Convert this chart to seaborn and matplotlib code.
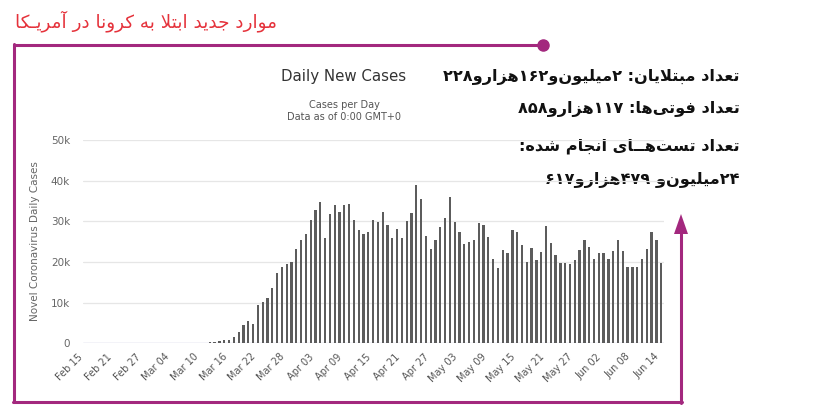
import re
import pandas as pd
import matplotlib.pyplot as plt
import seaborn as sns

# داده‌ها: موارد روزانه از ۱۵ فوریه تا ۱۴ ژوئن
start_date = "2020-02-15"
end_date = "2020-06-14"
feb_cases = [0, 0, 0, 0, 0, 0, 0, 0, 0, 0, 0, 0, 0, 10, 10]
mar_cases = [10, 20, 20, 30, 50, 70, 80, 100, 120, 150, 180, 200,
             300, 500, 700, 700, 1500, 2900, 4500, 5500, 4800, 9300,
             10200, 11200, 13500, 17400, 18800, 19600, 20000, 23100, 25400]
apr_cases = [26900, 30400, 32900, 34700, 25800, 31700, 34000, 32400, 34000, 34300,
             30400, 27900, 27000, 27400, 30400, 29900, 32400, 29100, 26000, 28100,
             26000, 30200, 32000, 39000, 35400, 26400, 23100, 25500, 28500, 30900]
may_cases = [36100, 29800, 27400, 24500, 24800, 25500, 29500, 29200, 26200, 20800,
             18600, 23000, 22100, 27900, 27400, 24100, 20100, 23400, 20600, 22500,
             28800, 24600, 21700, 19800, 19800, 19400, 20500, 22900, 25500, 23600, 20700]
jun_cases = [22100, 22100, 20800, 22700, 25300, 22700, 18800, 18800, 18800, 20800,
             23100, 27300, 25300, 19800]
y_ticks = [0, 10000, 20000, 30000, 40000, 50000]
y_labels = ["0", "10k", "20k", "30k", "40k", "50k"]

title_fa = "موارد جدید ابتلا به کرونا در آمریـکا"
info_lines = [
    "تعداد مبتلایان: ۲میلیون\u200cو۱۶۲هزارو۲۲۸",
    "تعداد فوتی\u200cها: ۱۱۷هزارو۸۵۸",
    "تعداد تست\u200cهــای انجام شده:",
    "۲۴میلیون\u200cو ۴۷۹هزارو۶۱۷",
]

dates = pd.date_range(start_date, end_date)
cases = feb_cases + mar_cases + apr_cases + may_cases + jun_cases
df = pd.DataFrame({"date": dates.strftime("%Y-%m-%d"), "cases": cases})
tick_pos = list(range(0, len(dates), 6))
tick_lab = [dates[i].strftime("%b %d") for i in tick_pos]

# شکل‌دهی حروف فارسی (matplotlib اتصال حروف را انجام نمی‌دهد)
FORMS = {
    "\u0627": ("\uFE8D", "\uFE8E", None, None),
    "\u0622": ("\uFE81", "\uFE82", None, None),
    "\u0628": ("\uFE8F", "\uFE90", "\uFE91", "\uFE92"),
    "\u067E": ("\uFB56", "\uFB57", "\uFB58", "\uFB59"),
    "\u062A": ("\uFE95", "\uFE96", "\uFE97", "\uFE98"),
    "\u062B": ("\uFE99", "\uFE9A", "\uFE9B", "\uFE9C"),
    "\u062C": ("\uFE9D", "\uFE9E", "\uFE9F", "\uFEA0"),
    "\u0686": ("\uFB7A", "\uFB7B", "\uFB7C", "\uFB7D"),
    "\u062D": ("\uFEA1", "\uFEA2", "\uFEA3", "\uFEA4"),
    "\u062E": ("\uFEA5", "\uFEA6", "\uFEA7", "\uFEA8"),
    "\u062F": ("\uFEA9", "\uFEAA", None, None),
    "\u0630": ("\uFEAB", "\uFEAC", None, None),
    "\u0631": ("\uFEAD", "\uFEAE", None, None),
    "\u0632": ("\uFEAF", "\uFEB0", None, None),
    "\u0698": ("\uFB8A", "\uFB8B", None, None),
    "\u0633": ("\uFEB1", "\uFEB2", "\uFEB3", "\uFEB4"),
    "\u0634": ("\uFEB5", "\uFEB6", "\uFEB7", "\uFEB8"),
    "\u0635": ("\uFEB9", "\uFEBA", "\uFEBB", "\uFEBC"),
    "\u0636": ("\uFEBD", "\uFEBE", "\uFEBF", "\uFEC0"),
    "\u0637": ("\uFEC1", "\uFEC2", "\uFEC3", "\uFEC4"),
    "\u0638": ("\uFEC5", "\uFEC6", "\uFEC7", "\uFEC8"),
    "\u0639": ("\uFEC9", "\uFECA", "\uFECB", "\uFECC"),
    "\u063A": ("\uFECD", "\uFECE", "\uFECF", "\uFED0"),
    "\u0641": ("\uFED1", "\uFED2", "\uFED3", "\uFED4"),
    "\u0642": ("\uFED5", "\uFED6", "\uFED7", "\uFED8"),
    "\u06A9": ("\uFB8E", "\uFB8F", "\uFB90", "\uFB91"),
    "\u06AF": ("\uFB92", "\uFB93", "\uFB94", "\uFB95"),
    "\u0644": ("\uFEDD", "\uFEDE", "\uFEDF", "\uFEE0"),
    "\u0645": ("\uFEE1", "\uFEE2", "\uFEE3", "\uFEE4"),
    "\u0646": ("\uFEE5", "\uFEE6", "\uFEE7", "\uFEE8"),
    "\u0647": ("\uFEE9", "\uFEEA", "\uFEEB", "\uFEEC"),
    "\u0648": ("\uFEED", "\uFEEE", None, None),
    "\u06CC": ("\uFBFC", "\uFBFD", "\uFBFE", "\uFBFF"),
    "\u0640": ("\u0640", "\u0640", "\u0640", "\u0640"),
}
LAM_ALEF = {"\u0627": ("\uFEFB", "\uFEFC"), "\u0622": ("\uFEF5", "\uFEF6")}


def joins_next(ch):
    return ch in FORMS and FORMS[ch][2] is not None


def shape(text):
    out, i, n = [], 0, len(text)
    while i < n:
        c = text[i]
        if c not in FORMS:
            if c != "\u200c":
                out.append(c)
            i += 1
            continue
        prev_j = i > 0 and joins_next(text[i - 1])
        if c == "\u0644" and i + 1 < n and text[i + 1] in LAM_ALEF:
            lig = LAM_ALEF[text[i + 1]]
            out.append(lig[1] if prev_j else lig[0])
            i += 2
            continue
        next_j = i + 1 < n and text[i + 1] in FORMS and joins_next(c)
        iso, fin, ini, med = FORMS[c]
        if prev_j and next_j:
            out.append(med)
        elif prev_j:
            out.append(fin)
        elif next_j:
            out.append(ini)
        else:
            out.append(iso)
        i += 1
    return "".join(out)


def fa(text):
    s = shape(text)[::-1]
    return re.sub(r"[\u06F0-\u06F90-9]+", lambda m: m.group(0)[::-1], s)


sns.set_theme(style="white")
plt.rcParams["font.family"] = ["DejaVu Sans"]

W, H = 837, 405
fig = plt.figure(figsize=(W / 100, H / 100), dpi=100)

# لایه تزئینی با مختصات پیکسلی
deco = fig.add_axes([0, 0, 1, 1])
deco.set_xlim(0, W)
deco.set_ylim(H, 0)
deco.axis("off")

purple = "#a3287e"
deco.plot([14, 543], [45, 45], color=purple, lw=2.2, solid_capstyle="butt")
deco.plot([14, 14], [44, 402], color=purple, lw=2.2)
deco.plot([13, 682], [402, 402], color=purple, lw=2.2)
deco.plot([681, 681], [403, 228], color=purple, lw=2.2)
deco.plot(543, 45, "o", color=purple, ms=8)
deco.fill([681, 674, 688], [214, 234, 234], color=purple, lw=0)

deco.text(15, 21, fa(title_fa), color="#e5323b", fontsize=13.2, ha="left", va="center")
for yy, line in zip([77, 109, 146, 180], info_lines):
    deco.text(740, yy, fa(line), color="#111111", fontsize=11.6, fontweight="bold",
              ha="right", va="center")

deco.text(344, 76, "Daily New Cases", color="#333333", fontsize=10.8, ha="center", va="center")
deco.text(344, 105, "Cases per Day", color="#555555", fontsize=7, ha="center", va="center")
deco.text(344, 117, "Data as of 0:00 GMT+0", color="#555555", fontsize=7, ha="center", va="center")
deco.text(35, 241, "Novel Coronavirus Daily Cases", color="#666666", fontsize=7.5,
          rotation=90, ha="center", va="center")

# نمودار میله‌ای
ax = fig.add_axes([82.6 / W, 1 - 343.3 / H, 581 / W, 203.3 / H])
sns.barplot(data=df, x="date", y="cases", color="#5c5c5c", saturation=1,
            width=0.48, linewidth=0, ax=ax)
ax.set_xlim(-0.5, len(dates) - 0.5)
ax.set_ylim(0, 50000)
ax.set_yticks(y_ticks)
ax.set_yticklabels(y_labels)
ax.set_xticks(tick_pos)
ax.set_xticklabels(tick_lab, rotation=45, ha="right")
ax.set_xlabel("")
ax.set_ylabel("")
ax.yaxis.grid(True, color="#e6e6e6", lw=0.9)
ax.set_axisbelow(True)
ax.axhline(0, color="#ccd6eb", lw=1, zorder=0.5)
for s in ax.spines.values():
    s.set_visible(False)
ax.tick_params(axis="y", length=0, pad=9, labelsize=7.5, labelcolor="#666666")
ax.tick_params(axis="x", length=0, pad=6, labelsize=7, labelcolor="#555555")
ax.patch.set_alpha(0)

fig.savefig("out.png", dpi=100)
